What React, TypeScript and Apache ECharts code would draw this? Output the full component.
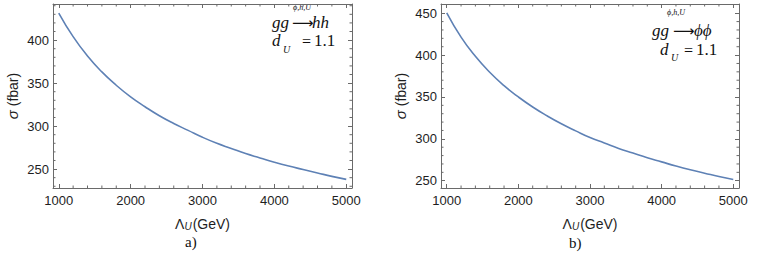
import React, { useEffect, useRef } from "react";
import * as echarts from "echarts";

// ---- data ----
const lambdaU = [1000, 1200, 1400, 1600, 1800, 2000, 2200, 2400, 2600, 2800, 3000, 3200, 3400, 3600, 3800, 4000, 4200, 4400, 4600, 4800, 5000];
const sigmaHH = [431.5, 404, 381.5, 363, 347.5, 334, 322.5, 312, 303, 295, 287, 280, 274, 268, 263, 258, 253.5, 249.5, 245.5, 241.5, 238];
const sigmaPhiPhi = [450.5, 421.5, 398.5, 379.5, 363.5, 350, 338, 327.5, 318, 309.5, 301.5, 295, 288.5, 283, 277.5, 272.5, 267.5, 263, 259, 255, 251.5];

const xMajor = [1000, 2000, 3000, 4000, 5000];
const xMinor = [1200, 1400, 1600, 1800, 2200, 2400, 2600, 2800, 3200, 3400, 3600, 3800, 4200, 4400, 4600, 4800];
const yMajorHH = [250, 300, 350, 400];
const yMinorHH = [230, 240, 260, 270, 280, 290, 310, 320, 330, 340, 360, 370, 380, 390, 410, 420, 430, 440];
const yMajorPP = [250, 300, 350, 400, 450];
const yMinorPP = [260, 270, 280, 290, 310, 320, 330, 340, 360, 370, 380, 390, 410, 420, 430, 440];

const FRAME = "#6a6a6a";
const LABEL = "#1e1e1e";
const CURVE = "#5E81B5";
const SANS = "'Liberation Sans', Arial, sans-serif";
const SERIF = "'Liberation Serif', 'Times New Roman', serif";
const ARROW_FONT = "'DejaVu Sans', sans-serif";

const X_RANGE = [920, 5080];
const Y_RANGE_HH = [228, 442];
const Y_RANGE_PP = [241.3, 461];

const plain = (v: number) => String(Math.round(v));

function xAxisDef(grid: number, pos: "bottom" | "top") {
  const bottom = pos === "bottom";
  return {
    type: "value",
    gridIndex: grid,
    position: pos,
    min: X_RANGE[0],
    max: X_RANGE[1],
    name: bottom ? "Λ{u|U}(GeV)" : "",
    nameLocation: "middle",
    nameGap: 29,
    nameTextStyle: {
      fontFamily: SANS,
      fontSize: 14,
      color: LABEL,
      rich: { u: { fontFamily: SANS, fontSize: 10, fontStyle: "italic", color: LABEL, verticalAlign: "bottom", padding: [0, 1, 0, 0] } },
    },
    axisLine: { show: true, lineStyle: { color: FRAME, width: 1 } },
    axisTick: { show: true, inside: true, length: 4, customValues: xMajor, lineStyle: { color: FRAME } },
    axisLabel: { show: bottom, customValues: xMajor, formatter: plain, margin: 6, fontFamily: SANS, fontSize: 13, color: LABEL },
    splitLine: { show: false },
  };
}

function yAxisDef(grid: number, pos: "left" | "right", range: number[], major: number[]) {
  const left = pos === "left";
  return {
    type: "value",
    gridIndex: grid,
    position: pos,
    min: range[0],
    max: range[1],
    name: left ? "{s|σ} (fbar)" : "",
    nameLocation: "middle",
    nameRotate: 90,
    nameGap: 33,
    nameTextStyle: {
      fontFamily: SANS,
      fontSize: 14,
      color: LABEL,
      rich: { s: { fontFamily: SANS, fontSize: 15, fontStyle: "italic", color: LABEL } },
    },
    axisLine: { show: true, lineStyle: { color: FRAME, width: 1 } },
    axisTick: { show: true, inside: true, length: 4, customValues: major, lineStyle: { color: FRAME } },
    axisLabel: { show: left, customValues: major, formatter: plain, margin: 4, fontFamily: SANS, fontSize: 13, color: LABEL },
    splitLine: { show: false },
  };
}

function xMinorSeries(idx: number, yMid: number) {
  return {
    type: "custom",
    xAxisIndex: idx,
    yAxisIndex: idx,
    silent: true,
    data: xMinor.map((v) => [v, yMid]),
    renderItem: (params: any, api: any) => {
      const p = api.coord([api.value(0), api.value(1)]);
      const cs = params.coordSys;
      const top = cs.y;
      const bot = cs.y + cs.height;
      return {
        type: "group",
        children: [
          { type: "line", shape: { x1: p[0], y1: bot, x2: p[0], y2: bot - 2.5 }, style: { stroke: FRAME, lineWidth: 1 } },
          { type: "line", shape: { x1: p[0], y1: top, x2: p[0], y2: top + 2.5 }, style: { stroke: FRAME, lineWidth: 1 } },
        ],
      };
    },
  };
}

function yMinorSeries(idx: number, minors: number[]) {
  return {
    type: "custom",
    xAxisIndex: idx,
    yAxisIndex: idx,
    silent: true,
    data: minors.map((v) => [3000, v]),
    renderItem: (params: any, api: any) => {
      const p = api.coord([api.value(0), api.value(1)]);
      const cs = params.coordSys;
      const l = cs.x;
      const r = cs.x + cs.width;
      return {
        type: "group",
        children: [
          { type: "line", shape: { x1: l, y1: p[1], x2: l + 2.5, y2: p[1] }, style: { stroke: FRAME, lineWidth: 1 } },
          { type: "line", shape: { x1: r, y1: p[1], x2: r - 2.5, y2: p[1] }, style: { stroke: FRAME, lineWidth: 1 } },
        ],
      };
    },
  };
}

function txt(x: number, y: number, text: string, size: number, italic: boolean, family = SERIF, lh?: number) {
  return {
    type: "text",
    x,
    y,
    silent: true,
    style: {
      text,
      fontFamily: family,
      fontSize: size,
      lineHeight: lh ?? Math.round(size * 0.72),
      fontStyle: italic ? "italic" : "normal",
      fill: "#111",
      align: "left",
      verticalAlign: "middle",
    },
  };
}

export default function App() {
  const ref = useRef<HTMLDivElement>(null);
  useEffect(() => {
    if (!ref.current) return;
    const chart = echarts.init(ref.current, undefined, { renderer: "svg" });
    const hh = lambdaU.map((x, i) => [x, sigmaHH[i]]);
    const pp = lambdaU.map((x, i) => [x, sigmaPhiPhi[i]]);
    chart.setOption({
      animation: false,
      backgroundColor: "#ffffff",
      grid: [
        { left: 53, top: 4, width: 299, height: 184 },
        { left: 441, top: 4, width: 298, height: 184 },
      ],
      xAxis: [xAxisDef(0, "bottom"), xAxisDef(0, "top"), xAxisDef(1, "bottom"), xAxisDef(1, "top")],
      yAxis: [
        yAxisDef(0, "left", Y_RANGE_HH, yMajorHH),
        yAxisDef(0, "right", Y_RANGE_HH, yMajorHH),
        yAxisDef(1, "left", Y_RANGE_PP, yMajorPP),
        yAxisDef(1, "right", Y_RANGE_PP, yMajorPP),
      ],
      series: [
        {
          type: "line",
          xAxisIndex: 0,
          yAxisIndex: 0,
          data: hh,
          smooth: true,
          showSymbol: false,
          lineStyle: { color: CURVE, width: 1.6 },
        },
        {
          type: "line",
          xAxisIndex: 2,
          yAxisIndex: 2,
          data: pp,
          smooth: true,
          showSymbol: false,
          lineStyle: { color: CURVE, width: 1.6 },
        },
        xMinorSeries(0, 300),
        xMinorSeries(2, 300),
        yMinorSeries(0, yMinorHH),
        yMinorSeries(2, yMinorPP),
      ],
      graphic: [
        // panel a annotation
        txt(272, 22, "gg", 17, true),
        txt(292, 23, "⟶", 15, false, ARROW_FONT, 8),
        txt(312, 22, "hh", 17, true),
        txt(293, 7, "ϕ,h,U", 8, true, SERIF, 6),
        txt(272, 40, "d", 17, true),
        txt(283, 49, "U", 10, true, SERIF, 7),
        txt(302, 41, "=", 16, false, SERIF, 8),
        txt(314, 40, "1.1", 17, false),
        // panel b annotation
        txt(652, 30, "gg", 17, true),
        txt(673, 31, "⟶", 15, false, ARROW_FONT, 8),
        txt(694, 30, "ϕϕ", 17, true),
        txt(667, 12, "ϕ,h,U", 8, true, SERIF, 6),
        txt(660, 49, "d", 17, true),
        txt(671, 57, "U", 10, true, SERIF, 7),
        txt(684, 50, "=", 16, false, SERIF, 8),
        txt(696, 49, "1.1", 17, false),
        // sub-figure labels
        txt(185, 242, "a)", 15, false),
        txt(569, 243, "b)", 15, false),
      ],
    });
    return () => chart.dispose();
  }, []);
  return <div ref={ref} style={{ position: "absolute", left: 0, top: 0, width: 766, height: 257 }} />;
}
